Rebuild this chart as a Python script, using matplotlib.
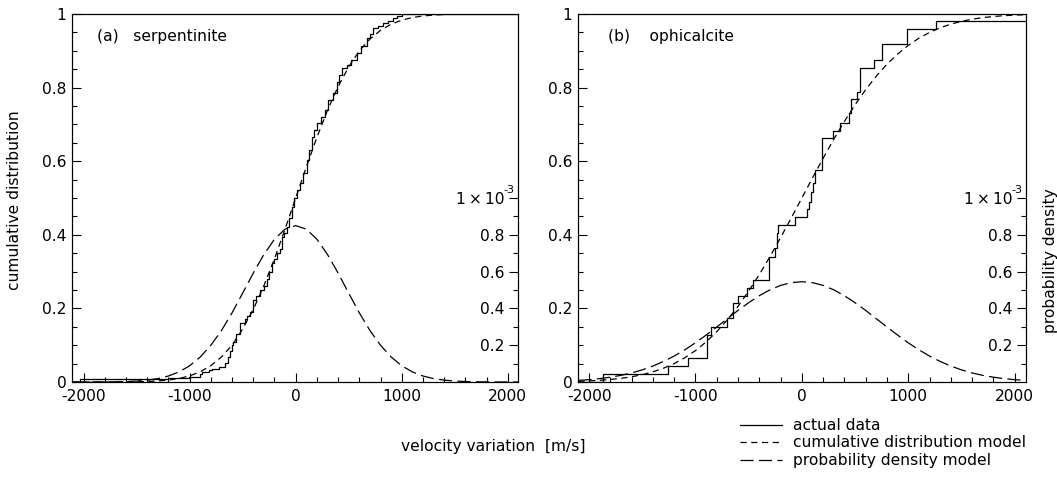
import numpy as np
import matplotlib
matplotlib.use("Agg")
import matplotlib.pyplot as plt
from matplotlib.ticker import MultipleLocator, FuncFormatter

# ---------------- data ----------------
# grid of the model curves (m/s)
model_v = np.arange(-2100, 2101, 100)

# (a) serpentinite: cumulative distribution model and probability density model (x 1e-3)
serp_cdf_model = [0.0000, 0.0000, 0.0000, 0.0001, 0.0001, 0.0003, 0.0007, 0.0014, 0.0028, 0.0054,
                  0.0096, 0.0167, 0.0278, 0.0444, 0.0681, 0.1003, 0.1437, 0.1974, 0.2617, 0.3352,
                  0.4158, 0.5000, 0.5842, 0.6648, 0.7383, 0.8026, 0.8563, 0.8997, 0.9319, 0.9556,
                  0.9722, 0.9833, 0.9904, 0.9946, 0.9972, 0.9986, 0.9993, 0.9997, 0.9999, 0.9999,
                  1.0000, 1.0000, 1.0000]
serp_pdf_model = [0.0000, 0.0001, 0.0002, 0.0006, 0.0012, 0.0026, 0.0052, 0.0101, 0.0185, 0.0327,
                  0.0550, 0.0884, 0.136, 0.200, 0.280, 0.376, 0.483, 0.592, 0.693, 0.776,
                  0.831, 0.850, 0.831, 0.776, 0.693, 0.592, 0.483, 0.376, 0.280, 0.200,
                  0.136, 0.0884, 0.0550, 0.0327, 0.0185, 0.0101, 0.0052, 0.0026, 0.0012, 0.0006,
                  0.0002, 0.0001, 0.0000]
# (a) actual data: positions of the steps and level after each step
serp_step_v = [-2030, -1200, -1010, -900, -880, -820, -790, -726, -664, -640,
               -620, -600, -589, -560, -525, -480, -455, -431, -399, -370,
               -336, -300, -274, -250, -226, -200, -179, -150, -132, -110,
               -85, -60, -38, -15, 9, 40, 72, 103, 125, 150,
               175, 198, 240, 276, 308, 355, 386, 410, 434, 481,
               520, 575, 620, 670, 700, 732, 780, 827, 870, 921,
               960, 1000]
serp_step_c = [0.007, 0.010, 0.014, 0.021, 0.028, 0.032, 0.036, 0.041, 0.051, 0.069,
               0.085, 0.100, 0.110, 0.130, 0.159, 0.170, 0.180, 0.190, 0.222, 0.235,
               0.250, 0.262, 0.280, 0.300, 0.323, 0.335, 0.350, 0.362, 0.395, 0.405,
               0.422, 0.445, 0.476, 0.500, 0.522, 0.540, 0.567, 0.603, 0.630, 0.667,
               0.685, 0.703, 0.720, 0.739, 0.766, 0.785, 0.816, 0.835, 0.852, 0.861,
               0.875, 0.893, 0.912, 0.934, 0.945, 0.961, 0.968, 0.976, 0.982, 0.988,
               0.994, 1.000]

# (b) ophicalcite
oph_cdf_model = [0.0020, 0.0031, 0.0046, 0.0068, 0.0099, 0.0142, 0.0199, 0.0276, 0.0375, 0.0501,
                 0.0659, 0.0853, 0.1088, 0.1366, 0.1688, 0.2056, 0.2467, 0.2918, 0.3405, 0.3920,
                 0.4455, 0.5000, 0.5545, 0.6080, 0.6595, 0.7082, 0.7533, 0.7944, 0.8312, 0.8634,
                 0.8912, 0.9147, 0.9341, 0.9499, 0.9625, 0.9724, 0.9801, 0.9858, 0.9901, 0.9932,
                 0.9954, 0.9969, 0.9980]
oph_pdf_model = [0.0087, 0.0128, 0.0184, 0.0261, 0.0362, 0.0493, 0.0660, 0.0866, 0.112, 0.141,
                 0.175, 0.213, 0.255, 0.299, 0.344, 0.389, 0.431, 0.469, 0.501, 0.525,
                 0.540, 0.545, 0.540, 0.525, 0.501, 0.469, 0.431, 0.389, 0.344, 0.299,
                 0.255, 0.213, 0.175, 0.141, 0.112, 0.0866, 0.0660, 0.0493, 0.0362, 0.0261,
                 0.0184, 0.0128, 0.0087]
oph_step_v = [-1866, -1255, -1067, -890, -850, -706, -643, -596, -518, -455,
              -305, -251, -235, -220, -63, 47, 70, 85, 103, 125,
              188, 292, 360, 439, 461, 517, 542, 674, 753, 988,
              1263]
oph_step_c = [0.021, 0.044, 0.065, 0.128, 0.150, 0.173, 0.214, 0.235, 0.255, 0.276,
              0.341, 0.363, 0.406, 0.427, 0.449, 0.469, 0.490, 0.517, 0.540, 0.576,
              0.662, 0.683, 0.705, 0.730, 0.768, 0.789, 0.852, 0.875, 0.918, 0.959,
              0.981]

panel_titles = ["(a)   serpentinite", "(b)    ophicalcite"]
density_ticks = [0.2, 0.4, 0.6, 0.8, 1.0]
density_minor = [0.1, 0.3, 0.5, 0.7, 0.9]
density_labels = ["0.2", "0.4", "0.6", "0.8", "1\u2009×\u200910"]
density_exponent = "-3"
legend_labels = ["actual data", "cumulative distribution model", "probability density model"]

# ---------------- style ----------------
plt.rcParams["font.family"] = ["DejaVu Sans"]
plt.rcParams["font.size"] = 11.2
plt.rcParams["axes.unicode_minus"] = False
plt.rcParams["axes.linewidth"] = 0.8

W, H = 1057, 478
fig = plt.figure(figsize=(W / 100, H / 100), dpi=100)


def px_axes(x0, y0, x1, y1):
    return fig.add_axes([x0 / W, 1 - y1 / H, (x1 - x0) / W, (y1 - y0) / H])


LW = 0.9
SHORT = (5.0, 3.6)
LONG = (10.5, 4.3)

boxes = [(72, 14, 518, 382), (578, 14, 1026, 382)]
xlims = [(-2110, 2097), (-2104, 2107)]
steps = [(serp_step_v, serp_step_c), (oph_step_v, oph_step_c)]
cdfs = [serp_cdf_model, oph_cdf_model]
pdfs = [serp_pdf_model, oph_pdf_model]

handles = None
for i in range(2):
    ax = px_axes(*boxes[i])
    ax2 = ax.twinx()
    ax.set_xlim(*xlims[i])
    ax.set_ylim(0, 1)
    ax2.set_ylim(0, 2.0)

    sv, sc = steps[i]
    xs = [xlims[i][0]] + list(sv) + [xlims[i][1]]
    ys = [0.0] + list(sc) + [sc[-1]]
    h1, = ax.step(xs, ys, where="post", color="black", lw=LW)
    h2, = ax.plot(model_v, cdfs[i], color="black", lw=LW, dashes=SHORT)
    h3, = ax2.plot(model_v, pdfs[i], color="black", lw=LW, dashes=LONG)
    handles = [h1, h2, h3]

    # x axis
    ax.xaxis.set_major_locator(MultipleLocator(1000))
    ax.xaxis.set_minor_locator(MultipleLocator(200))
    ax.xaxis.set_major_formatter(FuncFormatter(lambda v, p: f"{int(round(v))}"))
    # cumulative axis
    ax.yaxis.set_major_locator(MultipleLocator(0.2))
    ax.yaxis.set_minor_locator(MultipleLocator(0.05))
    ax.yaxis.set_major_formatter(FuncFormatter(lambda v, p: f"{v:g}"))
    ax.tick_params(which="both", direction="in", top=False, right=False, width=0.8,
                   labelsize=11.2)
    ax.tick_params(which="major", length=6.5)
    ax.tick_params(which="minor", length=3.6)
    ax.tick_params(axis="x", pad=5)
    ax.tick_params(axis="y", pad=4)

    # density axis (lower half only), labels inside
    ax2.set_yticks(density_ticks, labels=density_labels, ha="right")
    ax2.set_yticks(density_minor, minor=True)
    ax2.tick_params(axis="y", which="both", direction="in", left=False, right=True,
                    labelleft=False, labelright=True, width=0.8, pad=-9.5, labelsize=11.2)
    ax2.tick_params(axis="y", which="major", length=6.5)
    ax2.tick_params(axis="y", which="minor", length=3.6)
    ax2.annotate(density_exponent, xy=(1.0, density_ticks[-1]),
                 xycoords=("axes fraction", "data"), xytext=(-2.5, 5.5),
                 textcoords="offset points", ha="right", va="center", fontsize=8)

    ax.text(0.057 if i == 0 else 0.067, 0.9375, panel_titles[i], transform=ax.transAxes,
            ha="left", va="center", fontsize=11.2)

fig.text(15 / W, 1 - 200 / H, "cumulative distribution", rotation=90, ha="center",
         va="center", fontsize=11.2)
fig.text(1050 / W, 1 - 261 / H, "probability density", rotation=90, ha="center",
         va="center", fontsize=11.2)
fig.text(493 / W, 1 - 447 / H, "velocity variation  [m/s]", ha="center", va="center",
         fontsize=11.2)

fig.legend(handles, legend_labels, loc="upper left", bbox_to_anchor=(740 / W, 1 - 418 / H),
           frameon=False, fontsize=11.2, handlelength=2.7, handletextpad=0.71,
           labelspacing=0.16, borderpad=0.0, borderaxespad=0.0)

fig.savefig("out.png", dpi=100)
